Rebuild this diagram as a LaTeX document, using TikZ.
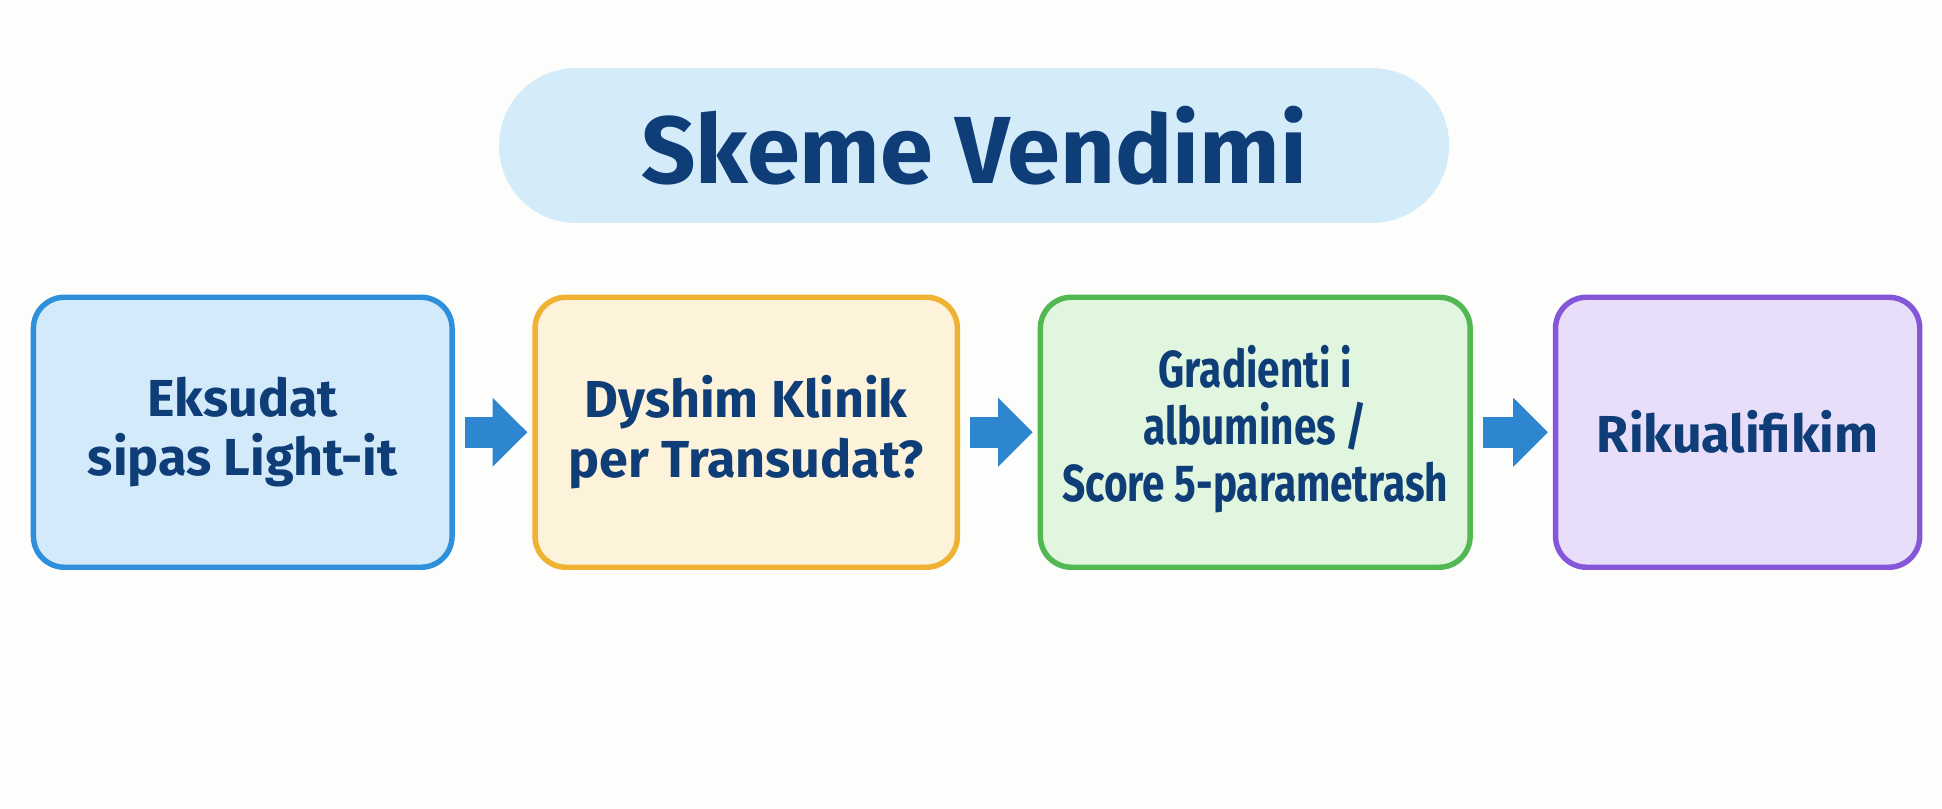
\documentclass[tikz,border=0pt]{standalone}
\usepackage{fontspec}
\setmainfont{Fira Sans}
\usetikzlibrary{arrows.meta}
\definecolor{bgc}{HTML}{FDFDFC}
\definecolor{txt}{HTML}{0E3D78}
\definecolor{pill}{HTML}{D4EBFA}
\definecolor{b1d}{HTML}{2E90DA}\definecolor{b1f}{HTML}{D2EAFA}
\definecolor{b2d}{HTML}{F0B232}\definecolor{b2f}{HTML}{FDF2DA}
\definecolor{b3d}{HTML}{52B852}\definecolor{b3f}{HTML}{E0F6DE}
\definecolor{b4d}{HTML}{8556D8}\definecolor{b4f}{HTML}{E8DEFA}
\definecolor{arr}{HTML}{2F86D0}
\tikzset{
  stepbox/.style={rounded corners=12.5pt, line width=2.2pt, minimum height=109pt, inner sep=0pt,
    align=center, text=txt, font=\fontsize{21}{24}\selectfont\bfseries},
  flowarrow/.style={arr, line width=12.5pt, shorten <=4pt, shorten >=2pt,
    -{Triangle[width=27pt,length=14pt]}}
}
\begin{document}
\begin{tikzpicture}[x=0.5pt,y=-0.5pt]
\fill[bgc] (0,0) rectangle (1568,653);
\useasboundingbox (0,0) rectangle (1568,653);
\node[fill=pill, rounded corners=31pt, minimum width=383.5pt, minimum height=62.5pt, inner sep=0pt,
  text=txt, font=\fontsize{38.5}{44}\selectfont\bfseries] (title) at (786.5,117.5) {Skeme Vendimi};
\node[stepbox, draw=b1d, fill=b1f, minimum width=169pt] (b1) at (196,349) {Eksudat\\sipas Light-it};
\node[stepbox, draw=b2d, fill=b2f, minimum width=170.5pt] (b2) at (602.5,349) {Dyshim Klinik\\per Transudat?};
\node[stepbox, draw=b3d, fill=b3f, minimum width=173.5pt] (b3) at (1013.5,349)
  {\scalebox{0.78}[1]{\begin{tabular}{@{}c@{}}Gradienti i\\[-1pt] albumines /\\[-1pt] Score 5-parametrash\end{tabular}}};
\node[stepbox, draw=b4d, fill=b4f, minimum width=147pt] (b4) at (1403,349) {Rikualifikim};
\draw[flowarrow] (b1.east) -- (b2.west);
\draw[flowarrow] (b2.east) -- (b3.west);
\draw[flowarrow] (b3.east) -- (b4.west);
\end{tikzpicture}
\end{document}
